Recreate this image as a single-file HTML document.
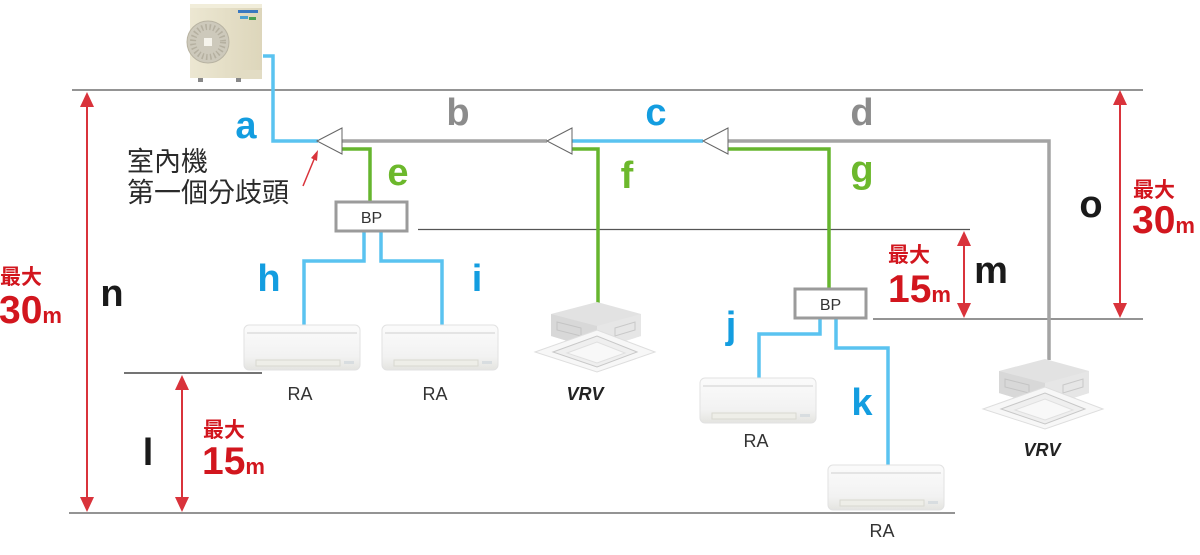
<!DOCTYPE html>
<html><head><meta charset="utf-8"><style>
html,body{margin:0;padding:0;background:#fff;}
svg{display:block;}
.L{font-family:"Liberation Sans",sans-serif;font-weight:bold;font-size:38px;text-anchor:middle;}
.R{font-family:"Liberation Sans","Noto Sans CJK TC",sans-serif;font-weight:bold;fill:#d2161e;}
.ra{font-family:"Liberation Sans",sans-serif;font-size:18px;fill:#333;text-anchor:middle;}
.vrv{font-family:"Liberation Sans",sans-serif;font-size:18px;font-weight:bold;font-style:italic;fill:#222;text-anchor:middle;}
</style></head><body>
<svg width="1200" height="555" viewBox="0 0 1200 555" xmlns="http://www.w3.org/2000/svg">
<defs>
<linearGradient id="raG" x1="0" y1="0" x2="0" y2="1"><stop offset="0" stop-color="#fbfbfb"/><stop offset="0.7" stop-color="#f2f2f2"/><stop offset="1" stop-color="#e4e4e0"/></linearGradient>
<linearGradient id="odG" x1="0" y1="0" x2="1" y2="0"><stop offset="0" stop-color="#ece7d2"/><stop offset="1" stop-color="#ddd6bb"/></linearGradient>
<g id="ra">
<rect x="0" y="0" width="116" height="45" rx="5" fill="url(#raG)" stroke="#e2e2e2" stroke-width="1"/>
<line x1="3" y1="8" x2="113" y2="8" stroke="#e4e4e4" stroke-width="2"/>
<rect x="12" y="35" width="84" height="6" fill="#eeeee8" stroke="#d8d8d0" stroke-width="1"/>
<rect x="100" y="36" width="10" height="3" fill="#d8dde0"/>
</g>
<g id="cas">
<polygon points="16,14 62,2 106,14 106,36 62,50 16,36" fill="#e2e2e2"/>
<polygon points="16,14 62,26 62,50 16,36" fill="#d8d8d8"/>
<polygon points="62,26 106,14 106,36 62,50" fill="#e6e6e6"/>
<polygon points="22,22 46,28 46,36 22,30" fill="none" stroke="#c4c4c4"/>
<polygon points="80,28 100,22 100,30 80,36" fill="none" stroke="#c8c8c8"/>
<polygon points="0,52 62,30 120,52 62,72" fill="#f7f7f7" stroke="#dedede"/>
<polygon points="18,52 62,36 102,52 62,67" fill="#efefef" stroke="#c8c8c8"/>
<polygon points="32,53 62,42 90,53 62,63" fill="#f8f8f8" stroke="#e0e0e0"/>
</g>
</defs>

<!-- outdoor unit -->
<rect x="190" y="4" width="72" height="74" fill="url(#odG)"/>
<rect x="190" y="4" width="72" height="4" fill="#f1edda"/>
<circle cx="208" cy="42" r="21" fill="#cdc9bb" stroke="#b8b3a2" stroke-width="1"/>
<circle cx="208" cy="42" r="15" fill="none" stroke="#b5b0a0" stroke-width="6" stroke-dasharray="1.5 2.5"/>
<rect x="204" y="38" width="8" height="8" fill="#f6f4ec"/>
<rect x="238" y="10" width="20" height="3" fill="#3a78c0"/>
<rect x="240" y="16" width="8" height="3" fill="#4aa0d0"/>
<rect x="249" y="17" width="7" height="3" fill="#4aa050"/>
<rect x="240" y="70" width="22" height="9" fill="#e2dcc4"/>
<rect x="198" y="78" width="5" height="4" fill="#888"/>
<rect x="236" y="78" width="5" height="4" fill="#888"/>

<!-- dimension lines -->
<g stroke="#555" stroke-width="1.3">
<line x1="72" y1="90" x2="1143" y2="90"/>
<line x1="418" y1="229.5" x2="970" y2="229.5"/>
<line x1="873" y1="319" x2="1143" y2="319"/>
<line x1="124" y1="373" x2="262" y2="373" stroke="#222"/>
<line x1="69" y1="513" x2="955" y2="513"/>
</g>

<!-- pipes -->
<g fill="none" stroke-width="3.5" stroke-linejoin="miter">
<polyline points="263,56 273,56 273,141 318,141" stroke="#5ac3f0"/>
<line x1="342" y1="141" x2="547" y2="141" stroke="#a4a4a4"/>
<line x1="572" y1="141" x2="703" y2="141" stroke="#5ac3f0"/>
<polyline points="727,141 1049,141 1049,360" stroke="#a4a4a4"/>
<polyline points="342,149 370,149 370,202" stroke="#66b52e"/>
<polyline points="572,149 598,149 598,303" stroke="#66b52e"/>
<polyline points="727,149 829,149 829,289" stroke="#66b52e"/>
<polyline points="364,232 364,261 304,261 304,326" stroke="#5ac3f0"/>
<polyline points="381,232 381,261 442,261 442,326" stroke="#5ac3f0"/>
<polyline points="820,318 820,334 759,334 759,379" stroke="#5ac3f0"/>
<polyline points="836,318 836,348 888,348 888,465" stroke="#5ac3f0"/>
</g>

<!-- branch joints -->
<g fill="#fff" stroke="#666" stroke-width="1">
<polygon points="317,141 342,128 342,154"/>
<polygon points="547,141 572,128 572,154"/>
<polygon points="703,141 728,128 728,154"/>
</g>

<!-- BP boxes -->
<rect x="336" y="202" width="71" height="29" fill="#fff" stroke="#9b9b9b" stroke-width="3"/>
<text x="371.5" y="223" font-family="Liberation Sans, sans-serif" font-size="16" fill="#333" text-anchor="middle">BP</text>
<rect x="795" y="289" width="71" height="29" fill="#fff" stroke="#9b9b9b" stroke-width="3"/>
<text x="830.5" y="310" font-family="Liberation Sans, sans-serif" font-size="16" fill="#333" text-anchor="middle">BP</text>

<!-- indoor units -->
<use href="#ra" x="244" y="325"/>
<use href="#ra" x="382" y="325"/>
<use href="#ra" x="700" y="378"/>
<use href="#ra" x="828" y="465"/>
<use href="#cas" x="535" y="300"/>
<use href="#cas" x="983" y="357"/>

<text class="ra" x="300" y="400">RA</text>
<text class="ra" x="435" y="400">RA</text>
<text class="ra" x="756" y="447">RA</text>
<text class="ra" x="882" y="537">RA</text>
<text class="vrv" x="585" y="400">VRV</text>
<text class="vrv" x="1042" y="456">VRV</text>

<!-- red dimension arrows -->
<g stroke="#d9333b" stroke-width="2" fill="#d9333b">
<line x1="87" y1="100" x2="87" y2="504"/>
<polygon points="87,92 80,107 94,107" stroke="none"/>
<polygon points="87,512 80,497 94,497" stroke="none"/>
<line x1="182" y1="383" x2="182" y2="504"/>
<polygon points="182,375 175,390 189,390" stroke="none"/>
<polygon points="182,512 175,497 189,497" stroke="none"/>
<line x1="964" y1="239" x2="964" y2="310"/>
<polygon points="964,231 957,246 971,246" stroke="none"/>
<polygon points="964,318 957,303 971,303" stroke="none"/>
<line x1="1120" y1="98" x2="1120" y2="310"/>
<polygon points="1120,90 1113,105 1127,105" stroke="none"/>
<polygon points="1120,318 1113,303 1127,303" stroke="none"/>
</g>

<!-- callout -->
<text x="127" y="171" font-family="Liberation Sans, 'Noto Sans CJK TC', sans-serif" font-size="27" fill="#2a2a2a">室內機</text>
<text x="127" y="202" font-family="Liberation Sans, 'Noto Sans CJK TC', sans-serif" font-size="27" fill="#2a2a2a">第一個分歧頭</text>
<line x1="303" y1="186" x2="315" y2="157" stroke="#d9333b" stroke-width="1.5"/>
<polygon points="318,150 311,158 317,161" fill="#d9333b"/>

<!-- letters -->
<text class="L" x="246" y="138" fill="#139de0">a</text>
<text class="L" x="458" y="125" fill="#8c8c8c">b</text>
<text class="L" x="656" y="125" fill="#139de0">c</text>
<text class="L" x="862" y="125" fill="#8c8c8c">d</text>
<text class="L" x="398" y="185" fill="#6cb82c">e</text>
<text class="L" x="627" y="188" fill="#6cb82c">f</text>
<text class="L" x="862" y="182" fill="#6cb82c">g</text>
<text class="L" x="269" y="291" fill="#139de0">h</text>
<text class="L" x="477" y="291" fill="#139de0">i</text>
<text class="L" x="731" y="338" fill="#139de0">j</text>
<text class="L" x="862" y="415" fill="#139de0">k</text>
<text class="L" x="148" y="465" fill="#1a1a1a">l</text>
<text class="L" x="991" y="283" fill="#1a1a1a">m</text>
<text class="L" x="112" y="306" fill="#1a1a1a">n</text>
<text class="L" x="1091" y="217" fill="#1a1a1a">o</text>

<!-- red labels -->
<text class="R" x="0" y="284" font-size="21">最大</text>
<text class="R" x="-1" y="323" font-size="39">30<tspan font-size="22">m</tspan></text>
<text class="R" x="203" y="437" font-size="21">最大</text>
<text class="R" x="202" y="474" font-size="39">15<tspan font-size="22">m</tspan></text>
<text class="R" x="888" y="262" font-size="21">最大</text>
<text class="R" x="888" y="302" font-size="39">15<tspan font-size="22">m</tspan></text>
<text class="R" x="1133" y="197" font-size="21">最大</text>
<text class="R" x="1132" y="233" font-size="39">30<tspan font-size="22">m</tspan></text>
</svg>
</body></html>
